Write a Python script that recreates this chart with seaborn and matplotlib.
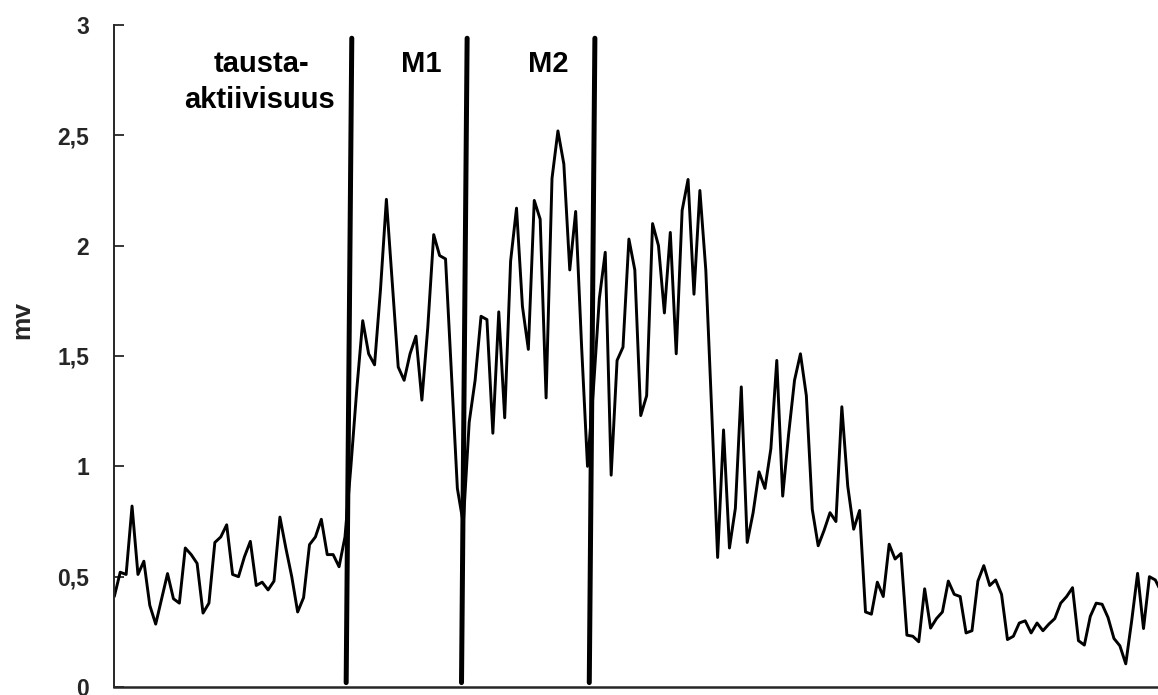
import numpy as np
import pandas as pd
import matplotlib
matplotlib.use("Agg")
import matplotlib.pyplot as plt
from matplotlib.ticker import FixedLocator, FixedFormatter
import seaborn as sns

# EMG amplitude (mV) per sample
emg_mv = [
    0.41, 0.52, 0.51, 0.82, 0.51, 0.57, 0.37, 0.285, 0.40, 0.514,
    0.40, 0.38, 0.63, 0.60, 0.56, 0.335, 0.38, 0.655, 0.68, 0.735,
    0.51, 0.50, 0.59, 0.66, 0.46, 0.475, 0.44, 0.48, 0.77, 0.63,
    0.50, 0.34, 0.405, 0.645, 0.68, 0.76, 0.60, 0.60, 0.545, 0.68,
    1.00, 1.35, 1.66, 1.51, 1.46, 1.80, 2.21, 1.83, 1.45, 1.39,
    1.51, 1.59, 1.30, 1.63, 2.05, 1.955, 1.94, 1.42, 0.90, 0.74,
    1.20, 1.39, 1.68, 1.665, 1.15, 1.70, 1.22, 1.93, 2.17, 1.725,
    1.53, 2.205, 2.12, 1.31, 2.305, 2.52, 2.37, 1.89, 2.155, 1.545,
    1.00, 1.35, 1.76, 1.97, 0.96, 1.48, 1.54, 2.03, 1.89, 1.23,
    1.32, 2.10, 2.00, 1.695, 2.06, 1.51, 2.16, 2.30, 1.78, 2.25,
    1.89, 1.25, 0.587, 1.165, 0.63, 0.81, 1.36, 0.655, 0.79, 0.975,
    0.90, 1.08, 1.48, 0.865, 1.145, 1.39, 1.51, 1.32, 0.805, 0.64,
    0.71, 0.79, 0.75, 1.27, 0.91, 0.715, 0.80, 0.34, 0.33, 0.475,
    0.41, 0.647, 0.58, 0.605, 0.235, 0.23, 0.205, 0.445, 0.267, 0.31,
    0.34, 0.48, 0.42, 0.41, 0.245, 0.255, 0.48, 0.55, 0.46, 0.485,
    0.42, 0.215, 0.23, 0.29, 0.30, 0.245, 0.29, 0.255, 0.285, 0.31,
    0.38, 0.41, 0.45, 0.21, 0.19, 0.32, 0.38, 0.375, 0.315, 0.22,
    0.187, 0.105, 0.30, 0.515, 0.265, 0.50, 0.485, 0.43,
]
sample = list(range(len(emg_mv)))

# phase boundaries (sample position at the foot of each divider)
phase_bounds = [39.2, 58.7, 80.3]
phase_names = ["M1", "M2"]

y_ticks = [0, 0.5, 1, 1.5, 2, 2.5, 3]
y_tick_labels = ["0", "0,5", "1", "1,5", "2", "2,5", "3"]

sns.set_style("ticks")
plt.rcParams["font.family"] = ["Liberation Sans", "DejaVu Sans"]
plt.rcParams["font.weight"] = "bold"

W, H = 1158, 695
fig = plt.figure(figsize=(W / 100, H / 100), dpi=100)
ax = fig.add_axes([114 / W, 1 - 687 / H, (W - 114) / W, (687 - 25) / H])

df = pd.DataFrame({"sample": sample, "mv": emg_mv})
sns.lineplot(data=df, x="sample", y="mv", ax=ax, color="black",
             linewidth=2.1, estimator=None, sort=False)

# phase dividers, drawn with the slight lean of the original record
for b in phase_bounds:
    ax.plot([b, b + 0.95], [0.02, 2.94], color="black", linewidth=3.6,
            solid_capstyle="round", zorder=3)

ax.set_xlim(-0.05, (W - 114.3) / 5.915)
ax.set_ylim(0, 3)

ax.yaxis.set_major_locator(FixedLocator(y_ticks))
ax.yaxis.set_major_formatter(FixedFormatter(y_tick_labels))
ax.tick_params(axis="y", direction="in", length=7, width=1.3, pad=18,
               labelsize=16.5)
for lbl in ax.get_yticklabels():
    lbl.set_fontweight("bold")
ax.set_xticks([])
ax.set_xlabel("")

ax.set_ylabel("mv", fontsize=19, fontweight="bold")
ax.yaxis.set_label_coords(-0.076, 0.555)

for side in ("top", "right"):
    ax.spines[side].set_visible(False)
ax.spines["left"].set_linewidth(1.4)
ax.spines["bottom"].set_linewidth(1.8)

txt = dict(fontsize=21, fontweight="bold", ha="center", va="baseline",
           color="black")
ax.text(24.95, 2.789, "tausta-", **txt)
ax.text(24.55, 2.624, "aktiivisuus", **txt)
ax.text(51.9, 2.789, phase_names[0], **txt)
ax.text(73.3, 2.789, phase_names[1], **txt)

fig.savefig("out.png", dpi=100)
